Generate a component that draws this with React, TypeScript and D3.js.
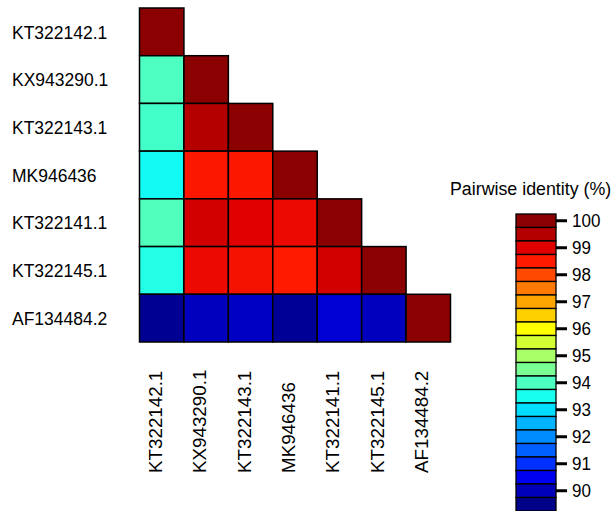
import React from "react";
import * as d3 from "d3";

const labels = [
  "KT322142.1",
  "KX943290.1",
  "KT322143.1",
  "MK946436",
  "KT322141.1",
  "KT322145.1",
  "AF134484.2",
];

// Lower-triangular pairwise identity (%) rows, including diagonal
const row1 = [100];
const row2 = [94.0, 100];
const row3 = [93.9, 99.5, 100];
const row4 = [93.4, 98.55, 98.55, 100];
const row5 = [94.05, 99.15, 99.0, 98.8, 100];
const row6 = [93.6, 98.8, 98.65, 98.5, 99.15, 100];
const row7 = [89.6, 90.05, 90.1, 89.65, 90.25, 90.05, 100];
const identityRows = [row1, row2, row3, row4, row5, row6, row7];

const legendValues = [
  100, 99.5, 99, 98.5, 98, 97.5, 97, 96.5, 96, 95.5, 95, 94.5, 94, 93.5, 93,
  92.5, 92, 91.5, 91, 90.5, 90, 89.5,
];
const legendColors = [
  "#8b0000", "#b50000", "#e00000", "#ff1a00", "#ff4a00", "#ff7a00", "#ffa500",
  "#ffd000", "#ffff00", "#d5ff35", "#a8ff68", "#7aff95", "#4dffc0", "#18fff0",
  "#00dfff", "#00b4ff", "#008cff", "#0060ff", "#0030ff", "#0000f0", "#0000b8",
  "#000088",
];
const legendTicks = [100, 99, 98, 97, 96, 95, 94, 93, 92, 91, 90];
const legendTitle = "Pairwise identity (%)";

const SY = 1.074;
const FONT = "'Liberation Sans', Arial, sans-serif";

export default function App() {
  const x = d3.scaleBand<string>().domain(labels).range([139.5, 450.5]).padding(0);
  const y = d3.scaleBand<string>().domain(labels).range([8, 342]).padding(0);
  const color = d3
    .scaleLinear<string>()
    .domain(legendValues)
    .range(legendColors)
    .interpolate(d3.interpolateRgb)
    .clamp(true);
  const ly = d3
    .scaleBand<number>()
    .domain(legendValues)
    .range([214, 214 + legendValues.length * 13.5])
    .padding(0);

  const cells: { r: string; c: string; v: number }[] = [];
  identityRows.forEach((row, i) =>
    row.forEach((v, j) => cells.push({ r: labels[i], c: labels[j], v }))
  );

  return (
    <svg
      width={615}
      height={511}
      style={{ position: "absolute", left: 0, top: 0, background: "#fff" }}
      fontFamily={FONT}
    >
      <rect x={0} y={0} width={615} height={511} fill="#fff" />
      {cells.map((d, k) => (
        <rect
          key={k}
          x={x(d.c)}
          y={y(d.r)}
          width={x.bandwidth()}
          height={y.bandwidth()}
          fill={color(d.v)}
          stroke="#000"
          strokeWidth={1.5}
        />
      ))}
      {labels.map((l) => (
        <text
          key={"r" + l}
          transform={`translate(12,${(y(l) as number) + y.bandwidth() / 2}) scale(1,${SY})`}
          dy="0.36em"
          fontSize={17.5}
          fill="#000"
        >
          {l}
        </text>
      ))}
      {labels.map((l) => (
        <text
          key={"c" + l}
          transform={`translate(${(x(l) as number) + x.bandwidth() / 2},473) scale(1,${SY}) rotate(-90)`}
          fontSize={17.5}
          fill="#000"
        >
          {l}
        </text>
      ))}
      <text
        transform={`translate(450,195) scale(1,${SY})`}
        fontSize={17.8}
        fill="#000"
      >
        {legendTitle}
      </text>
      {legendValues.map((v, i) => (
        <rect
          key={"l" + v}
          x={516}
          y={ly(v)}
          width={40}
          height={ly.bandwidth()}
          fill={legendColors[i]}
          stroke="#000"
          strokeWidth={1.3}
        />
      ))}
      {legendTicks.map((t) => {
        const cy = (ly(t) as number) + ly.bandwidth() / 2;
        return (
          <g key={"t" + t}>
            <line x1={556} x2={567} y1={cy} y2={cy} stroke="#000" strokeWidth={3} />
            <text
              transform={`translate(572,${cy}) scale(1,${SY})`}
              dy="0.36em"
              fontSize={17}
              fill="#000"
            >
              {t}
            </text>
          </g>
        );
      })}
    </svg>
  );
}
